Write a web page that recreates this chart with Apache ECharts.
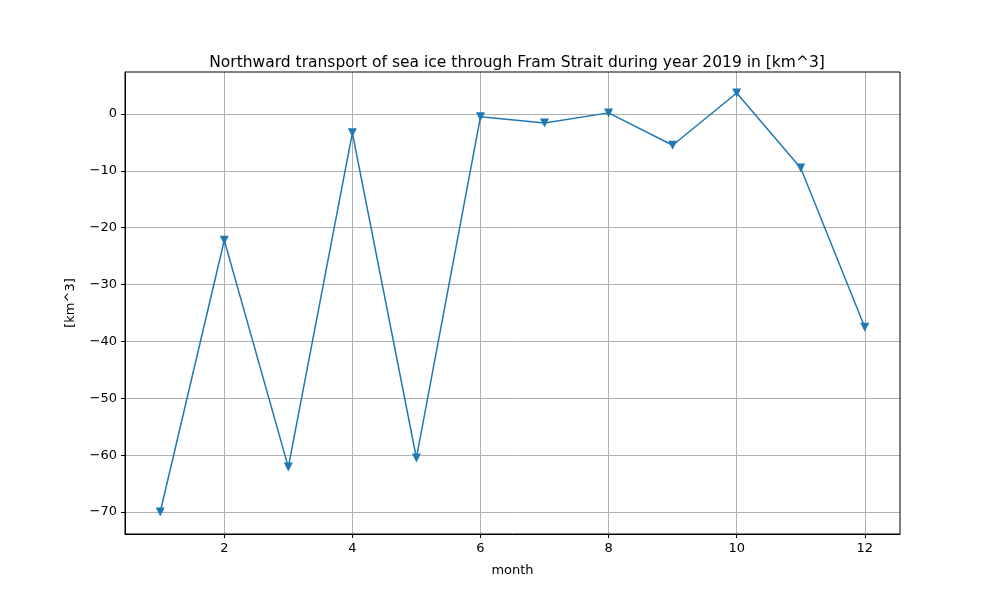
<!DOCTYPE html>
<html><head><meta charset="utf-8">
<script src="https://cdn.jsdelivr.net/npm/echarts@6/dist/echarts.min.js"></script>
<style>body{margin:0}#c{width:1000px;height:600px}</style></head>
<body><div id="c"></div>
<script>
const months=[1,2,3,4,5,6,7,8,9,10,11,12];
const transport=[-70,-22.2,-62.1,-3.3,-60.5,-0.5,-1.6,0.2,-5.5,3.7,-9.5,-37.5];
const xTicks=[2,4,6,8,10,12];
const yTicks=[-70,-60,-50,-40,-30,-20,-10,0];
const ch=echarts.init(document.getElementById('c'));
const font={fontFamily:'DejaVu Sans',fontSize:13,color:'#000'};
ch.setOption({
 animation:false,
 title:{text:'Northward transport of sea ice through Fram Strait during year 2019 in [km^3]',left:512,top:50,textAlign:'center',textStyle:{fontFamily:'DejaVu Sans',fontSize:15.5,fontWeight:'normal',color:'#000'}},
 grid:{left:125,right:100,top:72,bottom:66},
 xAxis:{type:'value',min:0.45,max:12.55,name:'month',nameLocation:'middle',nameGap:30,nameTextStyle:font,
  axisLine:{onZero:false,lineStyle:{color:'#000'}},
  axisTick:{customValues:xTicks,length:4,lineStyle:{color:'#000'}},
  axisLabel:Object.assign({customValues:xTicks,margin:8},font),
  splitLine:{show:true,lineStyle:{color:'#b0b0b0'}}},
 yAxis:{type:'value',min:-73.87,max:7.39,name:'[km^3]',nameLocation:'middle',nameGap:48,nameTextStyle:font,
  axisLine:{show:true,lineStyle:{color:'#000'}},
  axisTick:{show:true,customValues:yTicks,length:4,lineStyle:{color:'#000'}},
  axisLabel:Object.assign({customValues:yTicks,margin:8,formatter:v=>String(v).replace('-','\u2212')},font),
  splitLine:{show:true,lineStyle:{color:'#b0b0b0'}}},
 series:[{type:'line',data:months.map((m,i)=>[m,transport[i]]),symbol:'triangle',symbolRotate:180,symbolSize:9,
  lineStyle:{color:'#1f77b4',width:1.5},itemStyle:{color:'#1f77b4'}}],
 graphic:[{type:'rect',shape:{x:125,y:72,width:775,height:462},style:{fill:'none',stroke:'#000',lineWidth:1},silent:true,z:100}]
});
</script></body></html>
